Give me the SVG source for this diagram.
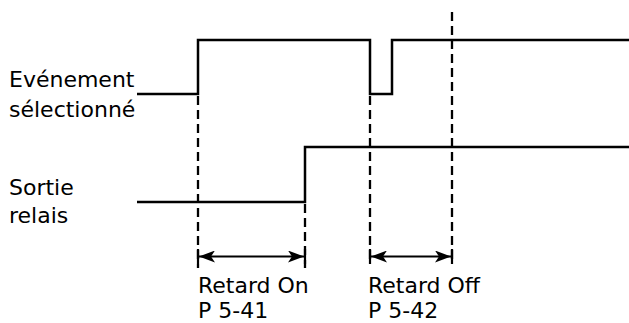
<svg xmlns="http://www.w3.org/2000/svg" width="629" height="323" viewBox="0 0 629 323">
<style>
.sig{fill:none;stroke:#000;stroke-width:2.5;stroke-linejoin:miter}
.dash{fill:none;stroke:#000;stroke-width:2.3;stroke-dasharray:9,5}
.tick{stroke:#000;stroke-width:2.2}
.dim{stroke:#000;stroke-width:2.2}
text{font-family:"DejaVu Sans",Verdana,sans-serif;font-size:22px;fill:#000}
</style>
<defs>
<marker id="ah" viewBox="0 0 16 12" refX="16" refY="6" markerWidth="16" markerHeight="12" markerUnits="userSpaceOnUse" orient="auto-start-reverse">
<path d="M0,0 L16,6 L0,12 L4,6 Z" fill="#000"/>
</marker>
</defs>
<rect width="629" height="323" fill="#fff"/>
<g id="connectors">
<g id="guides">
<line class="dash" x1="198" y1="96" x2="198" y2="268"/>
<line class="dash" x1="305" y1="204" x2="305" y2="268"/>
<line class="dash" x1="370" y1="96" x2="370" y2="260"/>
<line class="dash" x1="452" y1="12" x2="452" y2="260"/>
</g>
<g id="dims">
<line class="tick" x1="198" y1="249" x2="198" y2="264"/>
<line class="tick" x1="305" y1="249" x2="305" y2="264"/>
<line class="dim" x1="199" y1="256.5" x2="304" y2="256.5" marker-start="url(#ah)" marker-end="url(#ah)"/>
<line class="tick" x1="370" y1="249" x2="370" y2="264"/>
<line class="tick" x1="452" y1="249" x2="452" y2="264"/>
<line class="dim" x1="371" y1="256.5" x2="451" y2="256.5" marker-start="url(#ah)" marker-end="url(#ah)"/>
</g>
</g>
<g id="signal-event">
<polyline class="sig" points="137,94 198,94 198,40 370,40 370,94 392,94 392,40 629,40"/>
</g>
<g id="signal-relay">
<polyline class="sig" points="137,202 305,202 305,147 629,147"/>
</g>
<g id="labels">
<text x="9" y="87">Evénement</text>
<text x="9" y="117">sélectionné</text>
<text x="9" y="195">Sortie</text>
<text x="9" y="223">relais</text>
<text x="198" y="293">Retard On</text>
<text x="198" y="318">P 5-41</text>
<text x="368" y="293">Retard Off</text>
<text x="368" y="318">P 5-42</text>
</g>
</svg>
